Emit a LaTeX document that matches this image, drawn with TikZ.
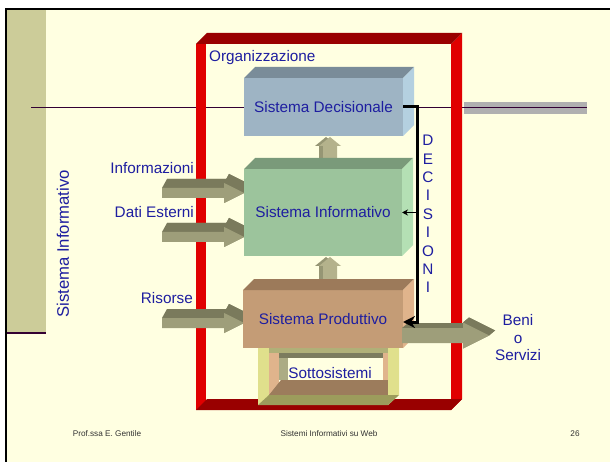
\documentclass[tikz,border=0pt]{standalone}
\usepackage{fontspec}
\setmainfont{Liberation Sans}
\usetikzlibrary{calc,arrows.meta}
\definecolor{bg}{RGB}{255,255,225}
\definecolor{band}{RGB}{204,204,153}
\definecolor{purp}{RGB}{51,0,51}
\definecolor{txtblue}{RGB}{30,30,160}
\definecolor{rred}{RGB}{224,0,0}
\definecolor{dred}{RGB}{153,0,0}
\definecolor{decF}{RGB}{158,180,196}
\definecolor{decT}{RGB}{122,140,153}
\definecolor{decS}{RGB}{180,208,224}
\definecolor{infF}{RGB}{156,196,156}
\definecolor{infT}{RGB}{122,154,122}
\definecolor{infS}{RGB}{180,224,180}
\definecolor{proF}{RGB}{196,156,118}
\definecolor{proT}{RGB}{156,122,90}
\definecolor{proS}{RGB}{224,180,140}
\definecolor{alight}{RGB}{158,158,122}
\definecolor{amid}{RGB}{140,140,106}
\definecolor{adark}{RGB}{122,122,92}
\definecolor{uplight}{RGB}{180,178,140}
\definecolor{updark}{RGB}{150,150,116}
\definecolor{syel}{RGB}{224,224,140}
\definecolor{solive}{RGB}{156,156,92}
\definecolor{stop}{RGB}{176,176,120}
\definecolor{sdark}{RGB}{124,124,94}
\definecolor{sgray}{RGB}{172,172,132}
\definecolor{sfloor}{RGB}{156,124,92}
\definecolor{stan}{RGB}{224,180,140}
\tikzset{
  lbl/.style={inner sep=0pt, text=txtblue, font=\fontsize{15.3}{18}\selectfont},
  boxnode/.style={inner sep=0pt, outer sep=0pt, text=txtblue, font=\fontsize{15.3}{18}\selectfont},
  foot/.style={inner sep=0pt, text=black!80, font=\fontsize{8.2}{10}\selectfont},
  decline/.style={line width=3pt, black}
}
\newcommand\tdarrow[8]{%
 \fill[amid] ({#1+#7},{#4-#5-#8}) -- ({#2+#7},{#4-#5-#8}) -- ({#2+#7},{#4-#6-#8}) -- ({#3+#7},{#4-#8}) -- ({#2+#7},{#4+#6-#8}) -- ({#2+#7},{#4+#5-#8}) -- ({#1+#7},{#4+#5-#8}) -- cycle;
 \fill[amid] (#3,#4) -- ({#3+#7},{#4-#8}) -- ({#2+#7},{#4+#6-#8}) -- (#2,{#4+#6}) -- cycle;
 \fill[adark] (#1,{#4-#5}) -- ({#1+#7},{#4-#5-#8}) -- ({#2+#7},{#4-#5-#8}) -- (#2,{#4-#5}) -- cycle;
 \fill[adark] (#2,{#4-#6}) -- ({#2+#7},{#4-#6-#8}) -- ({#3+#7},{#4-#8}) -- (#3,#4) -- cycle;
 \fill[adark] (#2,{#4-#6}) -- ({#2+#7},{#4-#6-#8}) -- ({#2+#7},{#4-#5-#8}) -- (#2,{#4-#5}) -- cycle;
 \fill[alight] (#1,{#4-#5}) -- (#2,{#4-#5}) -- (#2,{#4-#6}) -- (#3,#4) -- (#2,{#4+#6}) -- (#2,{#4+#5}) -- (#1,{#4+#5}) -- cycle;
}
\newcommand\uparr[3]{%
 \fill[updark] ({#1-11},#3) -- ({#1-11},{#2+9}) -- ({#1-15},{#2+9}) -- ({#1-4},#2) -- ({#1+7},{#2+9}) -- ({#1+3},{#2+9}) -- ({#1+3},#3) -- cycle;
 \fill[uplight] ({#1-7},#3) -- ({#1-7},{#2+9}) -- ({#1-11},{#2+9}) -- (#1,#2) -- ({#1+11},{#2+9}) -- ({#1+7},{#2+9}) -- ({#1+7},#3) -- cycle;
}
\newcommand\boxfaces[3]{%
 \fill[#2] (#1.north west) -- ++(11,-11) -- ($(#1.north east)+(11,-11)$) -- (#1.north east) -- cycle;
 \fill[#3] (#1.north east) -- ++(11,-11) -- ($(#1.south east)+(11,-11)$) -- (#1.south east) -- cycle;
}
\begin{document}
\begin{tikzpicture}[x=1pt,y=-1pt]
\useasboundingbox (0,0) rectangle (610,462);
\fill[white] (0,0) rectangle (610,462);
\fill[bg] (7,10) rectangle (610,462);
\fill[black] (5,8) rectangle (610,10);
\fill[black] (5,8) rectangle (7,462);
% left band
\fill[band] (7,10) rectangle (46,333);
\fill[purp] (7,332) rectangle (46,334);
\node[lbl, rotate=90, font=\fontsize{16.7}{19}\selectfont] (vsi) at (63,244) {Sistema Informativo};
% horizontal line and gray bar
\fill[black!31] (464,102) rectangle (587,114);
\draw[purp, line width=0.9pt] (31,107) -- (587,107);
% red frame
\fill[rred] (196,44) rectangle (206,410);
\fill[rred] (451,44) -- (462,33) -- (462,399) -- (451,410) -- cycle;
\fill[dred] (196,44) -- (207,33) -- (462,33) -- (451,44) -- cycle;
\fill[dred] (196,410) -- (207,399) -- (462,399) -- (451,410) -- cycle;
\node[lbl, anchor=west] (org) at (209,58) {Organizzazione};
% input arrows
\tdarrow{162}{224}{244}{193}{5}{10}{5}{9}
\tdarrow{162}{224}{244}{237}{5}{10}{5}{9}
\tdarrow{162}{224}{244}{323}{5}{10}{5}{9}
\node[lbl, anchor=east] (inf1) at (194,168) {Informazioni};
\node[lbl, anchor=east] (dati) at (194,212) {Dati Esterni};
\node[lbl, anchor=east] (ris) at (193,298) {Risorse};
% up arrows
\uparr{330}{137}{160}
\uparr{330}{257}{280}
% boxes
\node[boxnode, fill=decF, minimum width=159pt, minimum height=58pt] (dec) at (323.5,107) {Sistema Decisionale};
\boxfaces{dec}{decT}{decS}
\node[boxnode, fill=infF, minimum width=158pt, minimum height=87pt] (inf) at (323,212.5) {Sistema Informativo};
\boxfaces{inf}{infT}{infS}
% sottosistemi
\fill[stop] (258,347) rectangle (399,353);
\fill[stan] (269,353) rectangle (279,395);
\fill[stan] (383,353) rectangle (388,395);
\fill[sdark] (279,353) rectangle (383,358);
\fill[sgray] (279,358) rectangle (288,380);
\fill[sfloor] (269,395) -- (281,380) -- (388,380) -- (388,395) -- cycle;
\fill[syel] (258,348) rectangle (269,405);
\fill[syel] (388,348) -- (399,348) -- (399,395) -- (388,405) -- cycle;
\fill[solive] (258,405) -- (269,395) -- (399,395) -- (388,405) -- cycle;
\node[lbl] (sotto) at (330,373) {Sottosistemi};
\node[boxnode, fill=proF, minimum width=160pt, minimum height=58pt] (pro) at (323,319) {Sistema Produttivo};
\boxfaces{pro}{proT}{proS}
% output arrow
\tdarrow{402}{463}{489}{335.5}{7.5}{13}{6}{5}
\node[lbl, align=center, font=\fontsize{15.3}{17.5}\selectfont] (beni) at (518,338) {Beni\\o\\Servizi};
% decisioni connector
\coordinate (bus) at (417,107);
\draw[decline, -{Stealth[length=12pt,width=12pt]}] (dec.east) -- (bus) |- ($(pro.east)+(0,3)$);
\draw[black, line width=1.6pt, -{Stealth[length=6pt,width=6pt]}] (bus |- inf.east) -- (inf.east);
\node[lbl, align=center, font=\fontsize{15.3}{18.4}\selectfont] (decis) at (428,214) {D\\E\\C\\I\\S\\I\\O\\N\\I};
% footer
\node[foot] (f1) at (107,434) {Prof.ssa E. Gentile};
\node[foot] (f2) at (329,434) {Sistemi Informativi su Web};
\node[foot] (f3) at (575,434) {26};
\end{tikzpicture}
\end{document}
